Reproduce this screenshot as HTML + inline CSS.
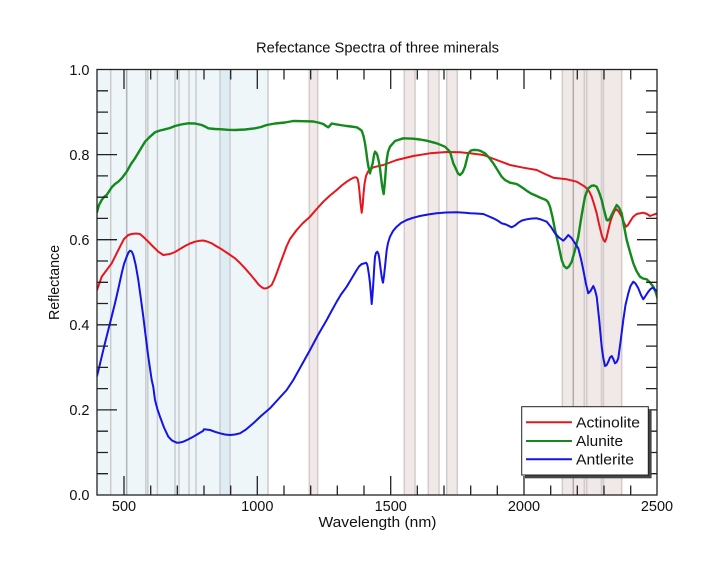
<!DOCTYPE html>
<html>
<head>
<meta charset="utf-8">
<style>
html,body{margin:0;padding:0;background:#fff;}
svg{display:block;}
text{font-family:"Liberation Sans",sans-serif;fill:#111;}
</style>
</head>
<body>
<svg width="715" height="573" viewBox="0 0 715 573" xmlns="http://www.w3.org/2000/svg">
<defs>
<clipPath id="pc"><rect x="97" y="69.5" width="560" height="425.5"/></clipPath>
</defs>
<rect x="0" y="0" width="715" height="573" fill="#fff"/>

<!-- shaded bands -->
<g>
<rect x="97" y="69.5" width="171" height="425.5" fill="#eef6fa"/>
<rect x="220" y="69.5" width="10" height="425.5" fill="#deecf4"/>
<g stroke="#c9cccd" stroke-width="1.5">
<line x1="110.7" y1="69.5" x2="110.7" y2="495"/>
<line x1="145.8" y1="69.5" x2="145.8" y2="495"/>
<line x1="147.8" y1="69.5" x2="147.8" y2="495"/>
<line x1="157.4" y1="69.5" x2="157.4" y2="495"/>
<line x1="175" y1="69.5" x2="175" y2="495"/>
<line x1="179" y1="69.5" x2="179" y2="495"/>
<line x1="189" y1="69.5" x2="189" y2="495"/>
<line x1="196" y1="69.5" x2="196" y2="495"/>
<line x1="220" y1="69.5" x2="220" y2="495"/>
<line x1="230" y1="69.5" x2="230" y2="495"/>
<line x1="268" y1="69.5" x2="268" y2="495"/>
</g>
<line x1="126.7" y1="69.5" x2="126.7" y2="495" stroke="#b0b4b6" stroke-width="1.5"/>

<g fill="#f1e8e8">
<rect x="309.3" y="69.5" width="8.4" height="425.5"/>
<rect x="404.3" y="69.5" width="10.7" height="425.5"/>
<rect x="428.3" y="69.5" width="10.7" height="425.5"/>
<rect x="446.7" y="69.5" width="10.6" height="425.5"/>
<rect x="562.3" y="69.5" width="59.4" height="425.5"/>
</g>
<g stroke="#d2cbcb" stroke-width="1.5">
<line x1="309.3" y1="69.5" x2="309.3" y2="495"/>
<line x1="317.7" y1="69.5" x2="317.7" y2="495"/>
<line x1="404.3" y1="69.5" x2="404.3" y2="495"/>
<line x1="415" y1="69.5" x2="415" y2="495"/>
<line x1="428.3" y1="69.5" x2="428.3" y2="495"/>
<line x1="439" y1="69.5" x2="439" y2="495"/>
<line x1="446.7" y1="69.5" x2="446.7" y2="495"/>
<line x1="457.3" y1="69.5" x2="457.3" y2="495"/>
<line x1="562.3" y1="69.5" x2="562.3" y2="495"/>
<line x1="584.3" y1="69.5" x2="584.3" y2="495"/>
<line x1="586.7" y1="69.5" x2="586.7" y2="495"/>
<line x1="601.5" y1="69.5" x2="601.5" y2="495"/>
<line x1="603.5" y1="69.5" x2="603.5" y2="495"/>
<line x1="621.7" y1="69.5" x2="621.7" y2="495"/>
</g>
<line x1="573.3" y1="69.5" x2="573.3" y2="495" stroke="#b3abab" stroke-width="1.5"/>
</g>

<!-- curves -->
<g clip-path="url(#pc)" fill="none" stroke-width="2" stroke-linejoin="round" stroke-linecap="round">
<polyline stroke="#e8161b" points="97,290 101.7,276.7 106.7,270 111.7,263.3 115,256.7 120,246.7 124,239 128.3,235 131.7,234 136,233.5 140,234 144,237.5 148.3,241.7 153,246.5 158.3,251.7 163.3,255 170,254 175,252 180,249 185,246 190,243.5 195,241.7 200,240.7 203.3,240.5 207,241.5 211.7,243.3 216,246 221.7,249.3 228,253.5 235,258.3 240,263 245,268.3 250,274 255,280 258.5,284.5 261.7,287.3 264,288.5 266.7,288.3 269,287 271.7,285 274,280 276.7,273.3 280,264 283,256 286.7,246 290,239 296.7,230 303,223 310,216.7 316.7,209 323.3,201.7 330,195.5 336.7,190 341.7,185.5 346.7,181.7 351,179 354,177.5 356,177.3 357.5,178.5 358.5,183 359.5,192 360.5,203 361.7,212.7 362.7,205 363.5,194 364.5,184 366,176 368,171.5 373.3,167.3 383.3,165 396.7,160 413.3,156 430,153.3 446.7,152 460,152.3 470,153.3 483.3,155 496.7,160 510,165 523.3,167.7 536.7,170 545,174 553.3,177.7 566.7,179.3 576.7,181.7 585,186.7 589,191 591.7,196.7 594,204 596.7,213.3 599,224 601.7,235 603.5,240 605,241.7 606.5,238 608.3,230 610.5,221 612.7,215 614.5,211 616.7,209.3 619,212 621.7,216.7 624,222.5 626,226.7 628,225 630,221.7 633,217 636.7,214 643.3,212.7 647,214 650,216 654,214.5 658,213.3"/>
<polyline stroke="#138a1c" stroke-width="2.4" points="97,212 99,205 101.7,200 104,197 106.7,195 111.7,187.3 115,184 118.3,181.7 122,178 126.7,171.7 131,164 135,158.3 140,150 145,141.7 150,136.7 155,132.3 160,130.5 165,129.3 170,128 175,126 181,124.5 188.3,123.3 195,123.5 201.7,125 205,126.5 208.3,128.3 215,129 221.7,129.3 228,129.8 235,130 245,129.5 255,128.3 261,127 266.7,125 275,123.5 285,122.5 293.3,121 303,121.2 313.3,121.5 318,122.5 323.3,124 326,126 328.3,127.3 330,125.5 331.7,123.5 336,124.3 340,125 346.7,126 351,126.5 356.7,127.3 359.5,129 361.7,130.7 363.5,136 365,143.3 366.3,152 367.3,160 368.5,167 370,173.3 371.3,168 372.7,163.3 374,155 375,151.7 376.3,153 377.3,155 378.7,161 380,168.3 381,177 382,185 383,191 383.7,194 384.5,186 385.3,176.7 386,167 386.7,160 388,152 390,146.7 395,141 403.3,138.3 413.3,138.7 420,139.5 426.7,140.7 436.7,143.3 445,146.7 450,151.7 453.3,163.3 456,169 458,173.5 460,175 462.5,172.5 465,166.7 468.3,153.3 471,150.5 473.3,150 476.7,150 480,150.7 485,153.3 489,157.5 493.3,163.3 497.5,170 501.7,176.7 505,180 510,182.7 516.7,184 521.5,187 526.7,190.7 531,193.5 536.7,196 541,198 546,200 548,202 550,206.7 552.5,217 555,230 558.5,245 561.7,260 564,266 566.7,268.3 569,266.5 571.7,261.7 575,250 578.3,236.7 581.5,216 585,196.7 588,188.5 591.7,185.7 594,185.5 596.7,186.7 599,192 601.7,200 604,210 606.7,220 608,220.5 610,218.3 613,212 616.7,205 619,207.5 621.7,213.3 624,226 626.7,240 630,252 633.3,263.3 636.5,271 640,276.7 643,278.5 646.7,279.3 650,282.5 653.3,286.7 656,293 658,300"/>
<polyline stroke="#1414e6" points="97,376 99,368 101.7,356.7 105,343 108.3,330 111.7,316.5 115,303.3 118.5,288 121.7,273.3 124,264 126.7,256.7 128.5,252.5 130,250.7 131.7,251.5 133.3,255 135.7,265 138.3,280 140.8,298 143.3,316.7 145.8,337 148.3,356.7 151.7,380 153.3,387 155,400 157.5,409.5 160,416.7 164,427.5 168.3,436.7 172,440.5 176.7,442.7 180,442.5 183.3,441.7 188,439.5 193.3,436.7 197,434.5 201.7,431.7 203,431 204,429.3 206,429.5 210,430 215,431.8 220,433.3 225,434.5 230,435 235,434.5 240,433.3 246,429.5 253.3,423.3 261,416 270,408.3 278,399.5 286.7,390 293.3,380 300,368 310,350 318,335 326.7,320 331,312 336.7,301.7 341,294.5 346.7,286.7 351,279.5 356.7,270 359,266.5 361.7,264 364,263.5 366,262.7 367,264 367.7,266.7 369,275 370,283.3 371,295 371.7,304 372.5,295 373.3,283.3 374.2,268 375,256.7 376,253 377.3,251.7 378.5,254 379.3,258.3 380.5,268 381.7,276.7 382.5,281 383,282.7 384,276 385,266.7 386,257 386.7,250 388,243 390,236.7 393,231 396.7,226.7 401,223 406.7,220 413,217.8 420,216 428,214.5 436.7,213.3 446,212.5 456.7,212.3 465,212.8 470,213.3 476,213.5 483.3,214 488,216 493.3,218.3 497.5,220.5 501.7,223.3 506,224.5 511.7,227.3 515,225.5 518.3,222.7 522,220.5 526.7,219.3 531,218.6 536.7,218.3 541,219.5 546.7,221.7 551,227 555,233.3 559,237.5 563.3,240.7 565.5,238.5 568.3,235 571.5,238 575,243.3 578.3,248.3 581,259 583.3,270 586,284 588.3,293.3 590.5,291 593.3,286 595,290 596.7,296.7 599,318 601.7,346.7 603.3,358 605,366 606.7,365 608.3,361.7 610,357.5 611.7,356 613.3,359 615,363.3 616.7,362 618.3,358.3 620.5,342 623.3,320 625.5,305 628.3,293.3 630.5,286 633.3,281.7 635.5,283.5 638.3,288.3 641,295 643.3,299.3 645.5,296 648.3,291.7 650.5,289 652.7,287.7 655,289.5 658,292"/>
</g>

<!-- ticks -->
<g stroke="#222" stroke-width="1.3">
<path d="M124,495V476 M257.3,495V476 M390.7,495V476 M524,495V476
M124,69.5V89 M257.3,69.5V89 M390.7,69.5V89 M524,69.5V89"/>
<path d="M150.7,495V485.5 M177.3,495V485.5 M204,495V485.5 M230.7,495V485.5
M284,495V485.5 M310.7,495V485.5 M337.3,495V485.5 M364,495V485.5
M417.3,495V485.5 M444,495V485.5 M470.7,495V485.5 M497.3,495V485.5
M550.7,495V485.5 M577.3,495V485.5 M604,495V485.5 M630.7,495V485.5
M150.7,69.5V79.5 M177.3,69.5V79.5 M204,69.5V79.5 M230.7,69.5V79.5
M284,69.5V79.5 M310.7,69.5V79.5 M337.3,69.5V79.5 M364,69.5V79.5
M417.3,69.5V79.5 M444,69.5V79.5 M470.7,69.5V79.5 M497.3,69.5V79.5
M550.7,69.5V79.5 M577.3,69.5V79.5 M604,69.5V79.5 M630.7,69.5V79.5"/>
<path d="M97,154.6H117 M97,239.7H117 M97,324.8H117 M97,409.9H117
M657,154.6H637 M657,239.7H637 M657,324.8H637 M657,409.9H637"/>
<path d="M97,90.8H108 M97,112.1H108 M97,133.3H108
M97,175.9H108 M97,197.2H108 M97,218.4H108
M97,261H108 M97,282.3H108 M97,303.5H108
M97,346.1H108 M97,367.4H108 M97,388.6H108
M97,431.2H108 M97,452.5H108 M97,473.7H108
M657,90.8H646 M657,112.1H646 M657,133.3H646
M657,175.9H646 M657,197.2H646 M657,218.4H646
M657,261H646 M657,282.3H646 M657,303.5H646
M657,346.1H646 M657,367.4H646 M657,388.6H646
M657,431.2H646 M657,452.5H646 M657,473.7H646"/>
</g>
<rect x="97" y="69.5" width="560" height="425.5" fill="none" stroke="#222" stroke-width="1.3"/>

<!-- tick labels -->
<g font-size="14.5" text-anchor="end">
<text x="89.5" y="75">1.0</text>
<text x="89.5" y="160">0.8</text>
<text x="89.5" y="245">0.6</text>
<text x="89.5" y="330">0.4</text>
<text x="89.5" y="415">0.2</text>
<text x="89.5" y="500">0.0</text>
</g>
<g font-size="14.5" text-anchor="middle">
<text x="124" y="511">500</text>
<text x="257.3" y="511">1000</text>
<text x="390.7" y="511">1500</text>
<text x="524" y="511">2000</text>
<text x="657" y="511">2500</text>
</g>

<!-- titles -->
<text x="377.5" y="52.5" font-size="14.5" text-anchor="middle" textLength="243" lengthAdjust="spacingAndGlyphs">Refectance Spectra of three minerals</text>
<text x="377.5" y="527" font-size="14.5" text-anchor="middle" textLength="118" lengthAdjust="spacingAndGlyphs">Wavelength (nm)</text>
<text transform="translate(59,282.5) rotate(-90)" x="0" y="0" font-size="14.5" text-anchor="middle" textLength="75" lengthAdjust="spacingAndGlyphs">Reflectance</text>

<!-- legend -->
<rect x="525" y="410" width="126.6" height="68.3" fill="#444"/>
<rect x="521.7" y="406.7" width="126.6" height="68.3" fill="#fff" stroke="#222" stroke-width="1"/>
<line x1="526" y1="422.3" x2="572" y2="422.3" stroke="#e8161b" stroke-width="2"/>
<line x1="526" y1="441" x2="572" y2="441" stroke="#138a1c" stroke-width="2"/>
<line x1="526" y1="459.3" x2="572" y2="459.3" stroke="#1414e6" stroke-width="2"/>
<g font-size="15">
<text x="576" y="427.5" textLength="64" lengthAdjust="spacingAndGlyphs">Actinolite</text>
<text x="576" y="446.2" textLength="47" lengthAdjust="spacingAndGlyphs">Alunite</text>
<text x="576" y="464.5" textLength="58" lengthAdjust="spacingAndGlyphs">Antlerite</text>
</g>
</svg>
</body>
</html>
